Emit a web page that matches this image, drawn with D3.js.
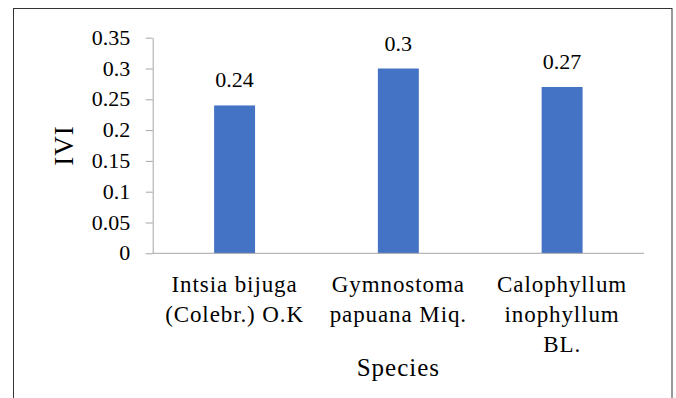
<!DOCTYPE html>
<html>
<head>
<meta charset="utf-8">
<script src="https://cdn.jsdelivr.net/npm/d3@7"></script>
<style>
  body { margin: 0; background: #fff; }
  text { font-family: "Liberation Serif", "Times New Roman", serif; fill: #000; }
</style>
</head>
<body>
<div id="chart"></div>
<script>
// data
const categories = ["Intsia bijuga (Colebr.) O.K", "Gymnostoma papuana Miq.", "Calophyllum inophyllum BL."];
const categoryLines = [["Intsia bijuga", "(Colebr.) O.K"], ["Gymnostoma", "papuana Miq."], ["Calophyllum", "inophyllum", "BL."]];
const values = [0.24, 0.3, 0.27];
const valueLabels = ["0.24", "0.3", "0.27"];
const yTicks = [0, 0.05, 0.1, 0.15, 0.2, 0.25, 0.3, 0.35];
const yTickLabels = ["0", "0.05", "0.1", "0.15", "0.2", "0.25", "0.3", "0.35"];

const width = 676, height = 398;
const margins = {left: 152.7, right: 32, top: 37.7, bottom: 144.7};

const svg = d3.select("#chart").append("svg")
    .attr("width", width)
    .attr("height", height);

// outer frame (bottom edge falls outside the picture)
svg.append("rect")
    .attr("x", 13.5).attr("y", 8.5)
    .attr("width", 658.5).attr("height", 400)
    .attr("fill", "none")
    .attr("stroke", "#333")
    .attr("stroke-width", 1);

const x = d3.scaleBand()
    .domain(categories)
    .range([margins.left, width - margins.right])
    .paddingInner(0.75)
    .paddingOuter(0.375);

const y = d3.scaleLinear()
    .domain([0, 0.35])
    .range([height - margins.bottom, margins.top]);

// bars
svg.selectAll(".bar")
    .data(values)
    .enter()
    .append("rect")
    .attr("class", "bar")
    .attr("x", (d, i) => x(categories[i]))
    .attr("y", d => y(d))
    .attr("width", x.bandwidth())
    .attr("height", d => y(0) - y(d))
    .attr("fill", "#4472C4");

// y axis
const gy = svg.append("g")
    .attr("transform", "translate(" + margins.left + ",0)")
    .call(d3.axisLeft(y)
        .tickValues(yTicks)
        .tickFormat((d, i) => yTickLabels[i])
        .tickSize(7)
        .tickSizeOuter(0));
gy.attr("font-family", null).attr("font-size", null);
gy.selectAll("path, line").attr("stroke", "#a6a6a6");
gy.selectAll("text")
    .attr("x", -22.5)
    .attr("dy", "0.3em")
    .style("font-size", "22px")
    .attr("fill", "#000");

// x axis line
svg.append("line")
    .attr("x1", margins.left).attr("x2", width - margins.right)
    .attr("y1", y(0)).attr("y2", y(0))
    .attr("stroke", "#a6a6a6");

// category labels
const catG = svg.selectAll(".cat")
    .data(categoryLines)
    .enter()
    .append("text")
    .attr("class", "cat")
    .attr("text-anchor", "middle")
    .style("font-size", "23px")
    .style("letter-spacing", "0.9px");
catG.selectAll("tspan")
    .data((d, i) => d.map(t => ({t: t, i: i})))
    .enter()
    .append("tspan")
    .attr("x", d => x(categories[d.i]) + x.bandwidth() / 2)
    .attr("y", (d, j) => y(0) + 38.4 + j * 30)
    .text(d => d.t);

// value labels
svg.selectAll(".val")
    .data(values)
    .enter()
    .append("text")
    .attr("class", "val")
    .attr("text-anchor", "middle")
    .attr("x", (d, i) => x(categories[i]) + x.bandwidth() / 2)
    .attr("y", d => y(d) - 18)
    .style("font-size", "22px")
    .text((d, i) => valueLabels[i]);

// axis titles
svg.append("text")
    .attr("text-anchor", "middle")
    .attr("x", (margins.left + width - margins.right) / 2)
    .attr("y", 375.7)
    .style("font-size", "25px")
    .style("letter-spacing", "1px")
    .text("Species");

svg.append("text")
    .attr("text-anchor", "middle")
    .attr("transform", "translate(73," + (y(0.175)) + ") rotate(-90)")
    .style("font-size", "27px")
    .style("letter-spacing", "1px")
    .text("IVI");
</script>
</body>
</html>
